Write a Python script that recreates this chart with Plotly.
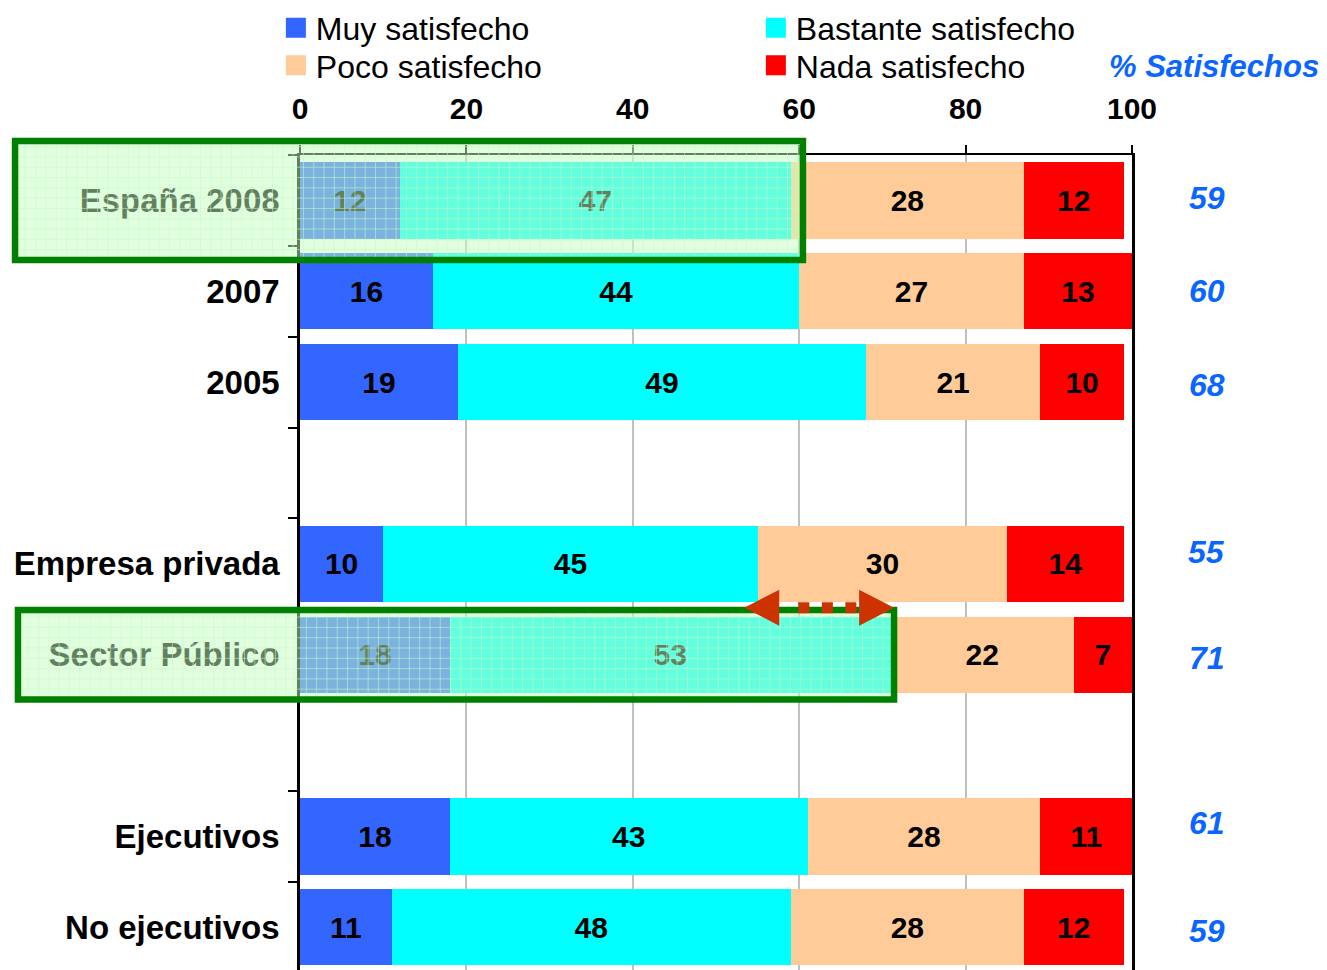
import plotly.graph_objects as go

# ---------------- data ----------------
categories = ['España 2008', '2007', '2005', 'Empresa privada', 'Sector Público',
              'Ejecutivos', 'No ejecutivos']
# row order on the axis, blanks are the empty separator rows
axis_order = ['España 2008', '2007', '2005', '', 'Empresa privada', 'Sector Público',
              '', 'Ejecutivos', 'No ejecutivos']
muy = [12, 16, 19, 10, 18, 18, 11]
bastante = [47, 44, 49, 45, 53, 43, 48]
poco = [28, 27, 21, 30, 22, 28, 28]
nada = [12, 13, 10, 14, 7, 11, 12]
satisfechos = [59, 60, 68, 55, 71, 61, 59]
x_ticks = [0, 20, 40, 60, 80, 100]
series_names = ['Muy satisfecho', 'Bastante satisfecho', 'Poco satisfecho', 'Nada satisfecho']
legend_rows = ['legend', 'legend', 'legend2', 'legend2']
highlighted = ['España 2008', 'Sector Público']
arrow_from, arrow_to = 'Empresa privada', 'Sector Público'

# ---------------- style ----------------
W, H = 1327, 970
ML, MR, MT, MB = 300, 195, 155, 0
PW, PH = W - ML - MR, H - MT - MB
colors = ['#3366FF', '#00FFFF', '#FFCC99', '#FF0000']
FONT = 'Liberation Sans'
BLUE = '#0A66FF'
XMIN, XMAX = 0, 100
YTOP, YBOT = -0.5, 8.47
sat_label_shift = [2, 0, -3, 12, -3, 13, -4]
box_style = {  # half height (in rows), extra right pad (data units), left edge (paper)
    'España 2008': (0.655, 1.45, -0.3425),
    'Sector Público': (0.493, 0.4, -0.339),
}
GRID_PX = 10.3

ypos = []
for c in categories:
    ypos.append(axis_order.index(c))


def xpaper(v):
    return (v - XMIN) / (XMAX - XMIN)


def ypaper(c):
    return (YBOT - c) / (YBOT - YTOP)


fig = go.Figure()
for name, vals, col in zip(series_names, [muy, bastante, poco, nada], colors):
    fig.add_trace(go.Bar(
        y=ypos, x=vals, name=name, orientation='h',
        marker=dict(color=col, line=dict(width=0)),
        texttemplate='%{x}', textposition='inside', insidetextanchor='middle',
        textangle=0, textfont=dict(family=FONT, size=30, color='black', weight='bold'),
        showlegend=False, hoverinfo='skip', cliponaxis=False,
    ))
# legend entries (bigger square symbols), two rows = two legends
for name, col, lg in zip(series_names, colors, legend_rows):
    fig.add_trace(go.Scatter(
        x=[None], y=[None], mode='markers', name=name, legend=lg,
        marker=dict(symbol='square', size=16, color=col, line=dict(width=4, color=col)),
    ))

shapes = []
for cat in highlighted:
    i = categories.index(cat)
    c = ypos[i]
    hh, pad, left = box_style[cat]
    x0, x1 = left, xpaper(muy[i] + bastante[i] + pad)
    y0, y1 = ypaper(c + hh), ypaper(c - hh)
    shapes.append(dict(
        type='rect', xref='paper', yref='paper', layer='above',
        x0=x0, x1=x1, y0=y0, y1=y1, line=dict(width=0),
        fillcolor='rgba(196,255,190,0.5)',
    ))
    # faint grid texture inside the highlight box
    dx, dy = GRID_PX / PW, GRID_PX / PH
    gx = x0 + dx
    while gx < x1 - dx / 3:
        shapes.append(dict(type='line', xref='paper', yref='paper', layer='above',
                           x0=gx, x1=gx, y0=y0, y1=y1,
                           line=dict(color='rgba(200,250,200,0.55)', width=1)))
        gx += dx
    gy = y0 + dy
    while gy < y1 - dy / 3:
        shapes.append(dict(type='line', xref='paper', yref='paper', layer='above',
                           x0=x0, x1=x1, y0=gy, y1=gy,
                           line=dict(color='rgba(200,250,200,0.55)', width=1)))
        gy += dy
    shapes.append(dict(
        type='rect', xref='paper', yref='paper', layer='above',
        x0=x0, x1=x1, y0=y0, y1=y1,
        line=dict(color='#008000', width=6.5), fillcolor='rgba(0,0,0,0)',
    ))

# double-headed dotted arrow between the satisfied shares
ia, ib = categories.index(arrow_from), categories.index(arrow_to)
x_left_tip = satisfechos[ia] - 1.6
x_right_tip = satisfechos[ib] + 0.4
head_len = 4.2
yc = ypaper((ypos[ia] + ypos[ib]) / 2) + 0.002
hh = 0.0221
arrow_col = '#CC3300'
shapes.append(dict(
    type='line', xref='x', yref='paper', layer='above',
    x0=x_left_tip + head_len + 2.3, x1=x_right_tip - head_len - 0.3, y0=yc, y1=yc,
    line=dict(color=arrow_col, width=11, dash='11px,12.5px'),
))
for tip, base in [(x_left_tip, x_left_tip + head_len), (x_right_tip, x_right_tip - head_len)]:
    shapes.append(dict(
        type='path', xref='x', yref='paper', layer='above',
        path=f'M {tip},{yc} L {base},{yc + hh} L {base},{yc - hh} Z',
        fillcolor=arrow_col, line=dict(color=arrow_col, width=0),
    ))

annotations = []
for c, v, s in zip(ypos, satisfechos, sat_label_shift):
    annotations.append(dict(
        x=1.09, xref='paper', y=c, yref='y', yshift=s, text=f'<i>{v}</i>',
        showarrow=False, xanchor='center', yanchor='middle',
        font=dict(family=FONT, size=32, color=BLUE, weight='bold'),
    ))
annotations.append(dict(
    x=1.0986, xref='paper', y=1.108, yref='paper', text='<i>% Satisfechos</i>',
    showarrow=False, xanchor='center', yanchor='middle',
    font=dict(family=FONT, size=31, color=BLUE, weight='bold'),
))

legend_common = dict(
    orientation='h', x=-0.029, xanchor='left', yanchor='top',
    entrywidth=435, font=dict(family=FONT, size=32, color='black'),
    bgcolor='rgba(0,0,0,0)', traceorder='normal', itemclick=False, itemdoubleclick=False,
)

fig.update_layout(
    width=W, height=H,
    margin=dict(l=ML, r=MR, t=MT, b=MB),
    barmode='stack', bargap=0.16,
    plot_bgcolor='white', paper_bgcolor='white',
    font=dict(family=FONT, color='black'),
    shapes=shapes, annotations=annotations,
    legend=dict(y=1.1895, **legend_common),
    legend2=dict(y=1.1436, **legend_common),
    xaxis=dict(
        range=[XMIN, XMAX], side='top', tickmode='array', tickvals=x_ticks,
        ticks='outside', ticklen=8, tickwidth=2, tickcolor='black',
        showline=True, linecolor='black', linewidth=2,
        showgrid=True, gridcolor='#C0C0C0', gridwidth=2, zeroline=False,
        tickfont=dict(family=FONT, size=30, color='black', weight='bold'),
        ticklabelstandoff=14,
    ),
    yaxis=dict(
        range=[YBOT, YTOP], tickmode='array', tickvals=ypos, ticktext=categories,
        ticks='', showline=True, linecolor='black', linewidth=2.5, mirror=True,
        showgrid=False, zeroline=False,
        tickfont=dict(family=FONT, size=33, color='black', weight='bold'),
        ticklabelstandoff=11,
        minor=dict(tickmode='linear', tick0=0.5, dtick=1, ticks='outside', ticklen=9,
                   tickwidth=2, tickcolor='black', showgrid=False),
    ),
)

fig.write_html('out.html', config={'displayModeBar': False},
               post_script="document.body.style.margin='0';document.body.style.overflow='hidden';")
